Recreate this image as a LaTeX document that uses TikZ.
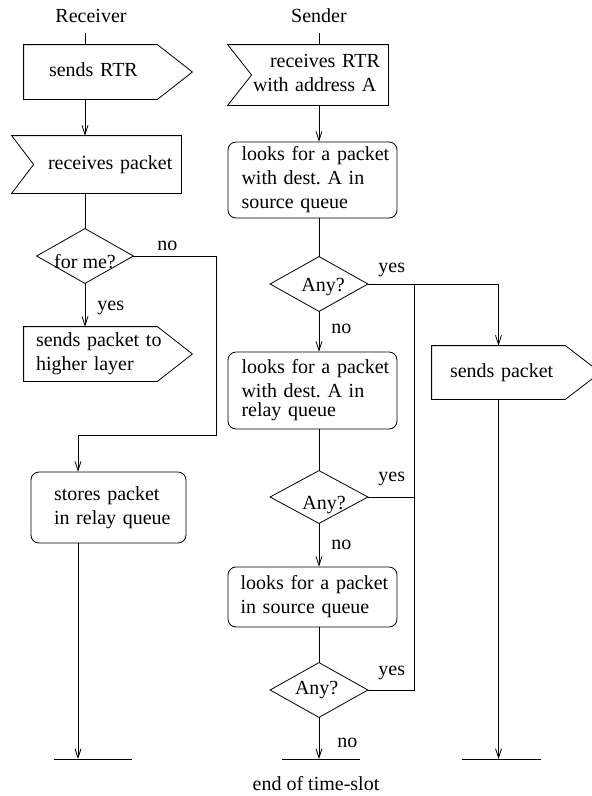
\documentclass[tikz,border=0pt]{standalone}
\usepackage{fontspec}
\setmainfont{Liberation Serif}
\usetikzlibrary{arrows.meta,calc}
\newcommand\tb[2]{\hspace*{#1}\begin{tabular}{@{}l@{}}#2\end{tabular}}
\begin{document}
\frenchspacing
\begin{tikzpicture}[x=1pt,y=-1pt,
  font=\fontsize{20}{24}\selectfont,
  line width=0.8pt,
  arr/.style={-{Straight Barb[length=9pt,width=6pt]}},
  shp/.style={draw=none,inner xsep=0pt,inner ysep=0pt,align=left},
  proc/.style={shp,draw,rounded corners=8pt},
  dia/.style={inner sep=0pt,minimum width=97pt,minimum height=54pt,text depth=0pt},
  lbl/.style={inner sep=0pt,anchor=base west}]
\useasboundingbox (0,0) rectangle (592,796);

% headings
\node[lbl,anchor=base] (recv) at (91,22) {Receiver};
\node[lbl,anchor=base] (send) at (319,22) {Sender};
\coordinate (cR) at (85,33);
\coordinate (cS) at (319,33);

% ---------------- Receiver column
\node[shp,text width=133pt,minimum height=54pt] (rtr) at (90.5,72) {\tb{25pt}{sends RTR}};
\draw (rtr.north west) -- (rtr.north east) -- ($(rtr.east)+(35,0)$) -- (rtr.south east) -- (rtr.south west) -- cycle;

\node[shp,text width=169pt,minimum height=57pt] (rpk) at (96.5,164.5) {\tb{36pt}{receives packet}};
\draw (rpk.north west) -- (rpk.north east) -- (rpk.south east) -- (rpk.south west) -- ($(rpk.west)+(22,0)$) -- cycle;

\node[dia,minimum width=96pt,text height=24pt] (d0) at (85,256) {for me?};
\draw (d0.north) -- (d0.east) -- (d0.south) -- (d0.west) -- cycle;

\node[shp,text width=133pt,minimum height=54pt] (hl) at (90.5,354) {\tb{12pt}{sends packet to\\higher layer}};
\draw (hl.north west) -- (hl.north east) -- ($(hl.east)+(35,0)$) -- (hl.south east) -- (hl.south west) -- cycle;

\node[proc,text width=155pt,minimum height=71pt] (stores) at (108.5,507.5) {\tb{23pt}{stores packet\\in relay queue}};

\coordinate (nR) at (216,435);
\coordinate (cR2) at (78,435);
\coordinate (rb1) at (54,759);
\coordinate (rb2) at (132,759);

\draw (cR) -- (cR |- rtr.north);
\draw[arr] (cR |- rtr.south) -- (cR |- rpk.north);
\draw (cR |- rpk.south) -- (d0.north);
\draw[arr] (d0.south) -- (d0.south |- hl.north);
\draw[arr] (d0.east) -| (nR) -- (cR2) -- (cR2 |- stores.north);
\draw[arr] (cR2 |- stores.south) -- (cR2 |- rb1);
\draw (rb1) -- (rb2);

\node[lbl] (noR) at (157,250) {no};
\node[lbl] (yesR) at (97,310) {yes};

% ---------------- Sender column
\node[shp,text width=160pt,minimum height=60pt] (srtr) at (308,75) {\tb{25pt}{\hspace*{17pt}receives RTR\\with address A}};
\draw (srtr.north west) -- (srtr.north east) -- (srtr.south east) -- (srtr.south west) -- ($(srtr.west)+(24,0)$) -- cycle;

\node[proc,text width=169pt,minimum height=76pt] (b1) at (312.5,180) {\tb{13.5pt}{looks for a packet\\with dest. A in\\source queue}};
\node[dia,text height=15.4pt] (d1) at (319,284) {\hspace*{8pt}Any?};
\draw (d1.north) -- (d1.east) -- (d1.south) -- (d1.west) -- cycle;

\node[proc,text width=169pt,minimum height=77pt] (b2) at (312.5,390.5) {\tb{13.5pt}{looks for a packet\\with dest. A in\\[-5pt]relay queue}};
\node[dia,minimum height=52pt,text height=24pt] (d2) at (319,497) {\hspace*{10pt}Any?};
\draw (d2.north) -- (d2.east) -- (d2.south) -- (d2.west) -- cycle;

\node[proc,text width=169pt,minimum height=60pt] (b3) at (312.5,597) {\tb{12.5pt}{looks for a packet\\in source queue}};
\node[dia,text height=9pt] (d3) at (319,690) {Any?\hspace*{4.6pt}};
\draw (d3.north) -- (d3.east) -- (d3.south) -- (d3.west) -- cycle;

\coordinate (sb1) at (282,759);
\coordinate (sb2) at (360,759);

\draw (cS) -- (cS |- srtr.north);
\draw[arr] (cS |- srtr.south) -- (cS |- b1.north);
\draw (cS |- b1.south) -- (d1.north);
\draw[arr] (d1.south) -- (d1.south |- b2.north);
\draw (cS |- b2.south) -- (d2.north);
\draw[arr] (d2.south) -- (d2.south |- b3.north);
\draw (cS |- b3.south) -- (d3.north);
\draw[arr] (d3.south) -- (d3.south |- sb1);
\draw (sb1) -- (sb2);

\node[lbl] (yes1) at (378,272) {yes};
\node[lbl] (no1) at (331,333) {no};
\node[lbl] (yes2) at (378,481) {yes};
\node[lbl] (no2) at (331,549) {no};
\node[lbl] (yes3) at (378,675) {yes};
\node[lbl] (no3) at (337,747) {no};
\node[lbl,anchor=base] (eot) at (316,790) {end of time-slot};

% ---------------- Right column
\node[shp,text width=133pt,minimum height=53pt] (sp) at (498.5,372.5) {\tb{18pt}{sends packet}};
\draw (sp.north west) -- (sp.north east) -- ($(sp.east)+(35,0)$) -- (sp.south east) -- (sp.south west) -- cycle;

\coordinate (cX) at (498.5,284);
\coordinate (cY) at (414,284);
\coordinate (xb1) at (462,759);
\coordinate (xb2) at (541,759);

\draw[arr] (d1.east) -- (cX) -- (sp.north);
\draw (cY) |- (d3.east);
\draw (d2.east) -- (d2.east -| cY);
\draw[arr] (sp.south) -- (sp.south |- xb1);
\draw (xb1) -- (xb2);
\end{tikzpicture}
\end{document}
